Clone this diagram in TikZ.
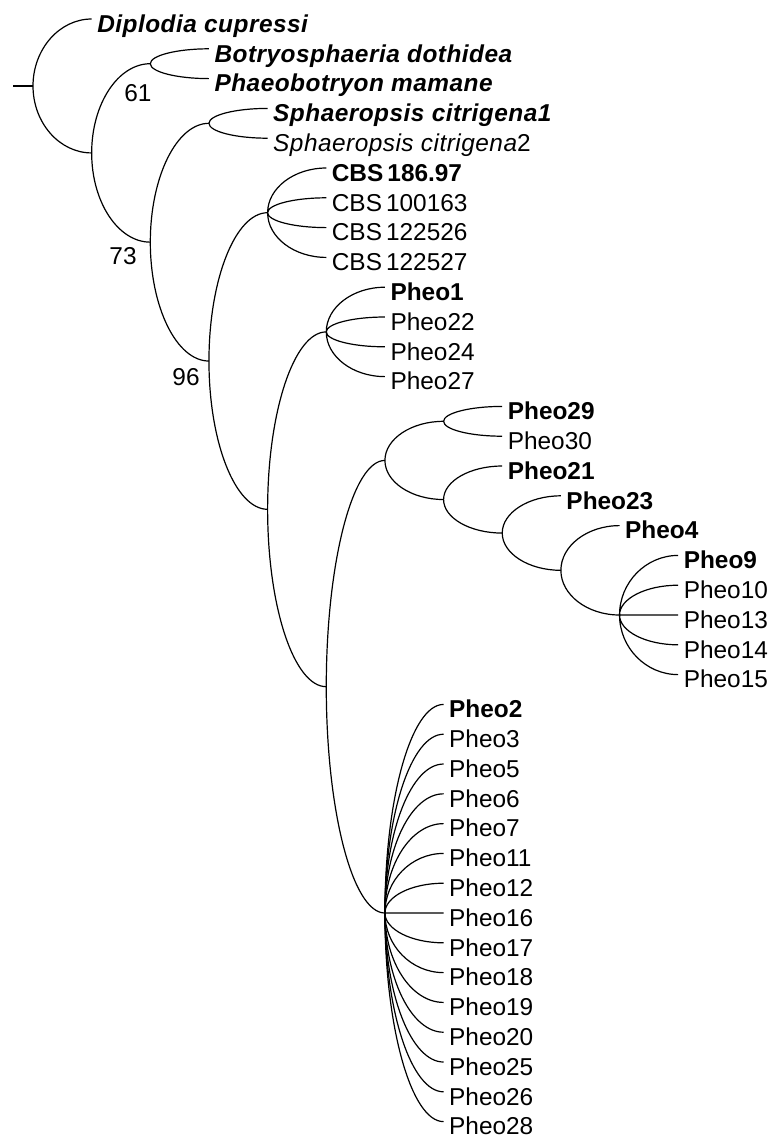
\documentclass[tikz,border=0pt]{standalone}
\usepackage{fontspec}
\setmainfont{Liberation Sans}
\newfontfamily\spacedfont{Liberation Sans}[LetterSpace=2]
\newcommand{\species}[1]{{\spacedfont\itshape #1}}
\usetikzlibrary{calc}
\begin{document}
\begin{tikzpicture}[x=43.99pt, y=-22.35pt,
  node font=\fontsize{18.3}{20}\selectfont, line width=0.9pt,
  leaf/.style={anchor=west, inner xsep=3.75pt, inner ysep=0pt,
    text height=19.8pt, text depth=0pt},
  support/.style={inner sep=0pt},
  branch/.style={to path={.. controls
    ($(\tikztostart)!.55!(\tikztostart|-\tikztotarget)$) and
    ($(\tikztotarget)!.55!(\tikztostart|-\tikztotarget)$) .. (\tikztotarget)}}]
  \useasboundingbox (-0.5627,-0.6376) rectangle (12.583,37.617);
  \coordinate (base) at (-0.341,2.247);
  \coordinate (R)   at (0,2.247);
  \coordinate (A)   at (1,4.494);
  \coordinate (BP)  at (2,1.5);
  \coordinate (C)   at (2,7.488);
  \coordinate (S)   at (3,3.5);
  \coordinate (D)   at (3,11.477);
  \coordinate (CBS) at (4,6.5);
  \coordinate (E)   at (4,16.453);
  \coordinate (P1)  at (5,10.5);
  \coordinate (G)   at (5,22.406);
  \coordinate (F)   at (6,14.8125);
  \coordinate (H)   at (6,30);
  \coordinate (N29) at (7,13.5);
  \coordinate (N21) at (7,16.125);
  \coordinate (N23) at (8,17.25);
  \coordinate (N4)  at (9,18.5);
  \coordinate (N9)  at (10,20);
  \node [leaf] (dc)   at (1,0)  {\bfseries\species{Diplodia cupressi}};
  \node [leaf] (bd)   at (3,1)  {\bfseries\species{Botryosphaeria dothidea}};
  \node [leaf] (pm)   at (3,2)  {\bfseries\species{Phaeobotryon mamane}};
  \node [leaf] (sc1)  at (4,3)  {\bfseries\species{Sphaeropsis citrigena1}};
  \node [leaf] (sc2)  at (4,4)  {\species{Sphaeropsis citrigena}2};
  \node [leaf] (cbs1) at (5,5)  {\textbf{CBS\,186.97}};
  \node [leaf] (cbs2) at (5,6)  {CBS\,100163};
  \node [leaf] (cbs3) at (5,7)  {CBS\,122526};
  \node [leaf] (cbs4) at (5,8)  {CBS\,122527};
  \node [leaf] (p1)   at (6,9)  {\textbf{Pheo1}};
  \node [leaf] (p22)  at (6,10) {Pheo22};
  \node [leaf] (p24)  at (6,11) {Pheo24};
  \node [leaf] (p27)  at (6,12) {Pheo27};
  \node [leaf] (p29)  at (8,13) {\textbf{Pheo29}};
  \node [leaf] (p30)  at (8,14) {Pheo30};
  \node [leaf] (p21)  at (8,15) {\textbf{Pheo21}};
  \node [leaf] (p23)  at (9,16) {\textbf{Pheo23}};
  \node [leaf] (p4)   at (10,17) {\textbf{Pheo4}};
  \node [leaf] (p9)   at (11,18) {\textbf{Pheo9}};
  \node [leaf] (p10)  at (11,19) {Pheo10};
  \node [leaf] (p13)  at (11,20) {Pheo13};
  \node [leaf] (p14)  at (11,21) {Pheo14};
  \node [leaf] (p15)  at (11,22) {Pheo15};
  \node [leaf] (p2)   at (7,23) {\textbf{Pheo2}};
  \node [support] (b61) at (1.790,2.483)  {61};
  \node [support] (b73) at (1.535,7.953)  {73};
  \node [support] (b96) at (2.609,12.013) {96};
  \draw (base) -- (R);
  \draw (R) to [branch] (dc.west) (R) to [branch] (A);
  \draw (A) to [branch] (BP) (A) to [branch] (C);
  \draw (BP) to [branch] (bd.west) (BP) to [branch] (pm.west);
  \draw (C) to [branch] (S) (C) to [branch] (D);
  \draw (S) to [branch] (sc1.west) (S) to [branch] (sc2.west);
  \draw (D) to [branch] (CBS) (D) to [branch] (E);
  \draw (CBS) to [branch] (cbs1.west) (CBS) to [branch] (cbs2.west)
    (CBS) to [branch] (cbs3.west) (CBS) to [branch] (cbs4.west);
  \draw (E) to [branch] (P1) (E) to [branch] (G);
  \draw (P1) to [branch] (p1.west) (P1) to [branch] (p22.west)
    (P1) to [branch] (p24.west) (P1) to [branch] (p27.west);
  \draw (G) to [branch] (F) (G) to [branch] (H);
  \draw (F) to [branch] (N29) (F) to [branch] (N21);
  \draw (N29) to [branch] (p29.west) (N29) to [branch] (p30.west);
  \draw (N21) to [branch] (p21.west) (N21) to [branch] (N23);
  \draw (N23) to [branch] (p23.west) (N23) to [branch] (N4);
  \draw (N4) to [branch] (p4.west) (N4) to [branch] (N9);
  \draw (N9) to [branch] (p9.west) (N9) to [branch] (p10.west)
    (N9) to [branch] (p13.west) (N9) to [branch] (p14.west)
    (N9) to [branch] (p15.west);
  \draw (H) to [branch] (p2.west);
  \foreach \n [count=\i from 24] in {3,5,6,7,11,12,16,17,18,19,20,25,26,28} {
    \node [leaf] (p\n) at (7,\i) {Pheo\n};
    \draw (H) to [branch] (p\n.west);
  }
\end{tikzpicture}
\end{document}
